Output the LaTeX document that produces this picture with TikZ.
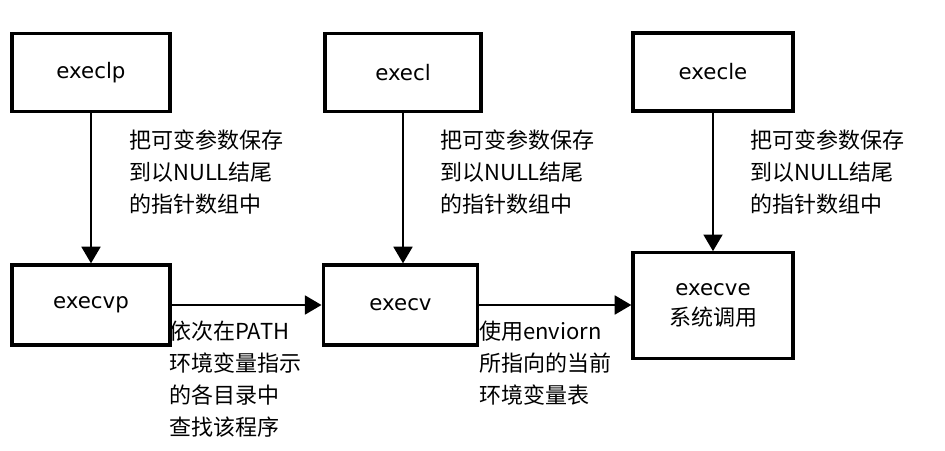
\documentclass[tikz,border=0pt]{standalone}
\usepackage{fontspec}
\setmainfont{DejaVu Sans}
\newfontfamily\cjk{Noto Sans CJK SC}
\usetikzlibrary{arrows.meta}
\begin{document}
\begin{tikzpicture}[x=0.75pt,y=-0.75pt,
  box/.style={draw,line width=2.4pt,inner sep=0pt,align=center,font=\fontsize{16}{23}\selectfont},
  conn/.style={line width=2.2pt,-{Triangle[length=12.5pt,width=14pt]}},
  lbl/.style={anchor=north west,inner sep=0pt,align=left,font=\cjk\fontsize{16.5}{24}\selectfont}]
\useasboundingbox (0,0) rectangle (945,450);
\node[box,minimum width=118.5pt,minimum height=59pt] (execlp) at (91,72.5) {execlp};
\node[box,minimum width=117pt,minimum height=59pt] (execl) at (403,72.5) {execl};
\node[box,minimum width=120pt,minimum height=58.5pt] (execle) at (713,72) {execle};
\node[box,minimum width=118.5pt,minimum height=60pt] (execvp) at (91,305) {execvp};
\node[box,minimum width=116pt,minimum height=60pt] (execv) at (400.5,305) {execv};
\node[box,minimum width=120pt,minimum height=79pt] (execve) at (713,305.5) {execve\\{\cjk\fontsize{16.5}{23}\selectfont 系统调用}};
\draw[conn] (execlp.south) -- (execlp.south |- execvp.north);
\draw[conn] (execl.south) -- (execl.south |- execv.north);
\draw[conn] (execle.south) -- (execle.south |- execve.north);
\draw[conn] (execvp.east) -- (execv.west |- execvp.east);
\draw[conn] (execv.east) -- (execve.west |- execv.east);
\node[lbl] (l1) at (129,130) {把可变参数保存\\到以NULL结尾\\的指针数组中};
\node[lbl] (l2) at (440,130) {把可变参数保存\\到以NULL结尾\\的指针数组中};
\node[lbl] (l3) at (750,130) {把可变参数保存\\到以NULL结尾\\的指针数组中};
\node[lbl] (l4) at (169,321) {依次在PATH\\环境变量指示\\的各目录中\\查找该程序};
\node[lbl] (l5) at (479,321) {使用enviorn\\所指向的当前\\环境变量表};
\end{tikzpicture}
\end{document}
